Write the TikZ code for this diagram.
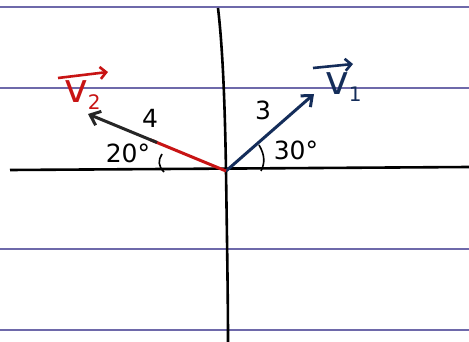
\documentclass[tikz,border=0pt]{standalone}
\usepackage{fontspec}
\setmainfont{DejaVu Sans}
\usetikzlibrary{arrows.meta,calc}
\definecolor{rule}{RGB}{110,105,170}
\definecolor{navy}{RGB}{20,45,90}
\definecolor{redv}{RGB}{200,20,20}
\begin{document}
\begin{tikzpicture}[x=1pt,y=-1pt,
  ruled/.style={rule, line width=1.2pt},
  axis/.style={black, line width=2.6pt},
  vec/.style={line width=3pt, -{Straight Barb[length=9pt,width=15pt,line width=3pt]}},
  lbl/.style={font=\fontsize{25}{25}\selectfont, inner sep=0pt},
  vlbl/.style={font=\fontsize{40}{40}\selectfont, inner sep=0pt},
  overarrow/.style={line width=2.6pt, -{Straight Barb[length=6pt,width=12pt,line width=2.6pt]}},
  angarc/.style={black, line width=1.6pt}]
\useasboundingbox (0,0) rectangle (469,342);
\fill[white] (0,0) rectangle (469,342);
% ruled paper lines
\foreach \yy in {7,88,249,330} \draw[ruled] (0,\yy) -- (469,\yy);
% axes
\coordinate (O) at (226,171);
\draw[axis] (10,170) -- (469,167);
\draw[axis] (218,8) .. controls (223,50) and (225,110) .. (O) .. controls (227,240) and (228,300) .. (228,342);
% vectors
\coordinate (T1) at (314,94);
\coordinate (T2) at (88,114);
\draw[vec, navy] (O) -- (T1);
\draw[line width=3pt, redv] (O) -- ($(O)!0.55!(T2)$);
\draw[vec, black!85] ($(O)!0.5!(T2)$) -- (T2);
% angle arcs
\draw[angarc] (259,145) .. controls (265,155) and (265,163) .. (261,171);
\draw[angarc] (162,154) .. controls (158,160) and (158,166) .. (164,172);
% labels
\node[lbl] (l3) at (263,110) {3};
\node[lbl] (l4) at (150,118) {4};
\node[lbl] (a30) at (296,150) {30°};
\node[lbl] (a20) at (128,153) {20°};
\node[vlbl, navy, anchor=south west] (v1) at (325,102) {v\raisebox{-7pt}{\fontsize{20}{20}\selectfont 1}};
\node[vlbl, redv, anchor=south west] (v2) at (64,110) {v\raisebox{-7pt}{\fontsize{20}{20}\selectfont 2}};
\draw[overarrow, navy] ($(v1.south west)+(-12,-34)$) -- ($(v1.south west)+(28,-38)$);
\draw[overarrow, redv] ($(v2.south west)+(-6,-32)$) -- ($(v2.south west)+(44,-38)$);
\end{tikzpicture}
\end{document}
